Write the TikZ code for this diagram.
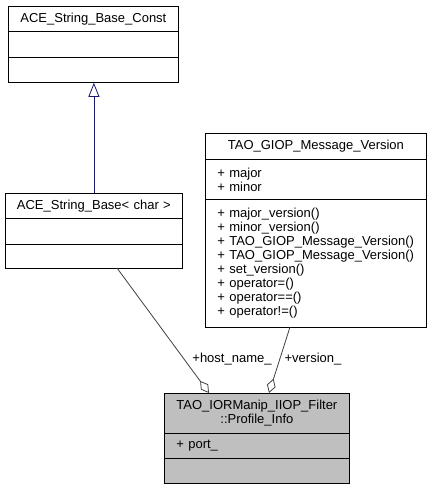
\documentclass[tikz,border=0pt]{standalone}
\usepackage{fontspec}
\setmainfont{Liberation Sans}
\usetikzlibrary{arrows.meta}
\newcommand{\umlfont}{\fontsize{13}{14}\selectfont}
\begin{document}
\begin{tikzpicture}[x=1pt,y=-1pt,
  part/.style={draw=black, line width=0.8pt, anchor=north west, inner xsep=12pt, inner ysep=0pt, font=\umlfont, align=left},
  ttl/.style={part, inner xsep=2pt, align=center},
  gray part/.style={fill=umlgray},
  inherit/.style={draw=umlnavy, line width=0.8pt, -{Triangle[open, length=14pt, width=11pt]}},
  assoc/.style={draw=umldark, line width=0.8pt, -{Diamond[open, length=15pt, width=9pt]}},
  lbl/.style={font=\umlfont, inner sep=1pt}
]
\definecolor{umlgray}{HTML}{BFBFBF}
\definecolor{umlnavy}{HTML}{191970}
\definecolor{umldark}{HTML}{404040}
\useasboundingbox (0,0) rectangle (431,491);
\fill[white] (0,0) rectangle (431,491);

% ACE_String_Base_Const
\node[ttl, text width=166pt, minimum height=25pt] (b1t) at (8,6) {ACE\_String\_Base\_Const};
\node[part, text width=146pt, minimum height=26pt] (b1a) at (8,31) {};
\node[part, text width=146pt, minimum height=25pt] (b1m) at (8,57) {};

% ACE_String_Base< char >
\node[ttl, text width=173pt, minimum height=25pt] (b2t) at (5,193) {ACE\_String\_Base< char >};
\node[part, text width=153pt, minimum height=26pt] (b2a) at (5,218) {};
\node[part, text width=153pt, minimum height=24pt] (b2m) at (5,244) {};

% TAO_GIOP_Message_Version
\node[ttl, text width=217pt, minimum height=26pt] (b3t) at (205,133) {TAO\_GIOP\_Message\_Version};
\node[part, text width=197pt, minimum height=40pt] (b3a) at (205,159) {+ major\\+ minor};
\node[part, text width=197pt, minimum height=128pt] (b3m) at (205,199) {+ major\_version()\\+ minor\_version()\\+ TAO\_GIOP\_Message\_Version()\\+ TAO\_GIOP\_Message\_Version()\\+ set\_version()\\+ operator=()\\+ operator==()\\+ operator!=()};

% TAO_IORManip_IIOP_Filter::Profile_Info
\node[ttl, gray part, text width=181pt, minimum height=40pt] (b4t) at (164,393) {TAO\_IORManip\_IIOP\_Filter\\::Profile\_Info};
\node[part, gray part, text width=161pt, minimum height=25pt] (b4a) at (164,433) {+ port\_};
\node[part, gray part, text width=161pt, minimum height=25pt] (b4m) at (164,458) {};

% connectors
\draw[inherit] (b2t.north) -- (b2t.north |- b1m.south);

\coordinate (hs) at (117,268);
\coordinate (he) at (209,393);
\coordinate (vs) at (290,327);
\coordinate (ve) at (269,393);
\draw[assoc] (hs) -- (he);
\draw[assoc] (vs) -- (ve);

\node[lbl] (lh) at (232,359) {+host\_name\_};
\node[lbl] (lv) at (313,359) {+version\_};
\end{tikzpicture}
\end{document}
